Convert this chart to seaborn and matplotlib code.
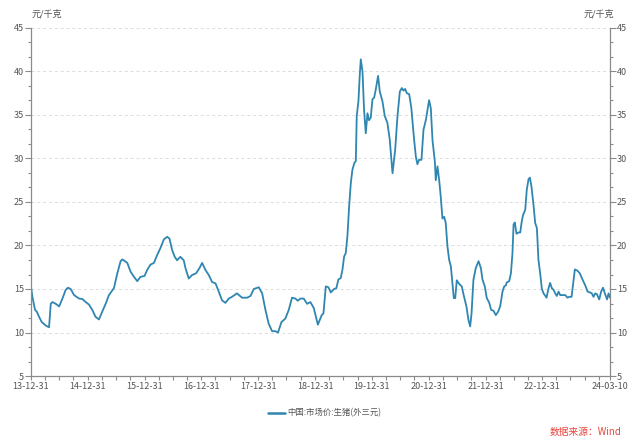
import matplotlib
matplotlib.use("Agg")
import matplotlib.pyplot as plt
from matplotlib.ticker import MultipleLocator
import seaborn as sns
import pandas as pd

# ---- data ----
dates = [
    "2013-12-31", "2014-01-09", "2014-01-26", "2014-02-06", "2014-02-21", "2014-03-10",
    "2014-04-05", "2014-04-26", "2014-05-07", "2014-05-18", "2014-06-08", "2014-06-30",
    "2014-07-21", "2014-08-11", "2014-08-26", "2014-09-12", "2014-10-04", "2014-11-05",
    "2014-11-26", "2014-12-18", "2015-01-08", "2015-01-29", "2015-02-19", "2015-03-13",
    "2015-04-03", "2015-04-25", "2015-05-16", "2015-06-17", "2015-07-09", "2015-07-30",
    "2015-08-10", "2015-08-27", "2015-09-11", "2015-10-02", "2015-10-24", "2015-11-14",
    "2015-12-05", "2015-12-31", "2016-01-17", "2016-02-07", "2016-02-29", "2016-03-21",
    "2016-04-11", "2016-05-03", "2016-05-24", "2016-06-08", "2016-06-25", "2016-07-12",
    "2016-07-27", "2016-08-17", "2016-09-08", "2016-09-19", "2016-10-10", "2016-10-31",
    "2016-11-26", "2016-12-18", "2017-01-04", "2017-01-25", "2017-02-16", "2017-03-09",
    "2017-03-31", "2017-04-21", "2017-05-12", "2017-06-03", "2017-06-24", "2017-07-15",
    "2017-08-16", "2017-09-18", "2017-10-20", "2017-11-11", "2017-12-02", "2018-01-03",
    "2018-01-25", "2018-02-15", "2018-03-08", "2018-03-30", "2018-04-20", "2018-05-07",
    "2018-05-29", "2018-06-23", "2018-07-15", "2018-08-05", "2018-08-27", "2018-09-11",
    "2018-09-28", "2018-10-19", "2018-11-10", "2018-12-01", "2018-12-23", "2019-01-18",
    "2019-02-12", "2019-02-23", "2019-03-10", "2019-03-27", "2019-04-11", "2019-05-02",
    "2019-05-17", "2019-05-30", "2019-06-14", "2019-06-25", "2019-07-06", "2019-07-16",
    "2019-07-27", "2019-08-07", "2019-08-18", "2019-08-28", "2019-09-10", "2019-09-19",
    "2019-09-25", "2019-10-06", "2019-10-14", "2019-10-21", "2019-11-01", "2019-11-11",
    "2019-11-22", "2019-12-03", "2019-12-13", "2019-12-24", "2020-01-04", "2020-01-15",
    "2020-01-25", "2020-02-09", "2020-02-20", "2020-03-08", "2020-03-23", "2020-04-09",
    "2020-04-24", "2020-05-12", "2020-05-29", "2020-06-13", "2020-06-28", "2020-07-11",
    "2020-07-21", "2020-08-01", "2020-08-12", "2020-08-27", "2020-09-10", "2020-09-26",
    "2020-10-09", "2020-10-19", "2020-10-30", "2020-11-14", "2020-11-27", "2020-12-12",
    "2020-12-23", "2021-01-02", "2021-01-13", "2021-01-24", "2021-02-08", "2021-02-14",
    "2021-02-25", "2021-03-08", "2021-03-18", "2021-03-29", "2021-04-09", "2021-04-19",
    "2021-04-30", "2021-05-11", "2021-05-22", "2021-06-01", "2021-06-10", "2021-06-19",
    "2021-06-29", "2021-07-14", "2021-07-31", "2021-08-15", "2021-08-30", "2021-09-12",
    "2021-09-23", "2021-10-02", "2021-10-14", "2021-10-29", "2021-11-16", "2021-12-01",
    "2021-12-11", "2021-12-26", "2022-01-08", "2022-01-23", "2022-02-05", "2022-02-20",
    "2022-03-07", "2022-03-22", "2022-04-04", "2022-04-19", "2022-04-30", "2022-05-10",
    "2022-05-16", "2022-06-01", "2022-06-12", "2022-06-22", "2022-06-29", "2022-07-07",
    "2022-07-18", "2022-07-31", "2022-08-11", "2022-08-21", "2022-08-30", "2022-09-12",
    "2022-09-22", "2022-10-03", "2022-10-12", "2022-10-22", "2022-11-04", "2022-11-15",
    "2022-11-26", "2022-12-06", "2022-12-17", "2022-12-28", "2023-01-08", "2023-01-27",
    "2023-02-09", "2023-02-19", "2023-03-02", "2023-03-13", "2023-03-24", "2023-04-03",
    "2023-04-14", "2023-04-25", "2023-05-10", "2023-05-27", "2023-06-11", "2023-06-22",
    "2023-07-07", "2023-07-17", "2023-07-28", "2023-08-14", "2023-08-29", "2023-09-15",
    "2023-10-02", "2023-10-18", "2023-11-02", "2023-11-14", "2023-11-25", "2023-12-06",
    "2023-12-17", "2024-01-01", "2024-01-13", "2024-01-25", "2024-02-06", "2024-02-20",
    "2024-03-01", "2024-03-10",
]
prices = [
    15.3, 14.1, 12.6, 12.4, 11.8, 11.2,
    10.8, 10.6, 13.3, 13.5, 13.3, 13.0,
    13.9, 14.9, 15.15, 15.0, 14.3, 13.9,
    13.85, 13.5, 13.2, 12.6, 11.8, 11.5,
    12.4, 13.3, 14.3, 15.1, 16.8, 18.2,
    18.4, 18.2, 18.0, 17.0, 16.4, 15.9,
    16.4, 16.5, 17.2, 17.8, 18.0, 18.9,
    19.7, 20.7, 21.0, 20.8, 19.5, 18.7,
    18.3, 18.7, 18.3, 17.4, 16.2, 16.6,
    16.8, 17.4, 18.0, 17.2, 16.6, 15.8,
    15.65, 14.7, 13.7, 13.4, 13.9, 14.1,
    14.5, 14.0, 14.0, 14.2, 15.0, 15.2,
    14.5, 12.6, 11.0, 10.15, 10.15, 10.0,
    11.2, 11.6, 12.6, 14.0, 13.9, 13.65,
    13.9, 13.9, 13.3, 13.5, 12.8, 10.9,
    12.0, 12.2, 15.3, 15.2, 14.6, 15.0,
    15.1, 16.1, 16.25, 17.2, 18.75, 19.1,
    21.05, 24.5, 27.2, 28.7, 29.5, 29.7,
    34.9, 36.6, 39.5, 41.4, 40.0, 35.6,
    32.9, 35.2, 34.4, 34.7, 36.8, 37.0,
    37.9, 39.5, 37.7, 36.6, 34.9, 34.1,
    32.2, 28.3, 31.0, 34.9, 37.7, 38.1,
    37.8, 38.0, 37.5, 37.4, 35.8, 32.5,
    30.2, 29.35, 29.85, 29.85, 33.3, 34.4,
    35.6, 36.7, 35.8, 32.1, 29.65, 27.5,
    29.1, 27.5, 25.6, 23.1, 23.3, 22.6,
    19.9, 18.35, 17.6, 15.7, 13.95, 13.95,
    16.0, 15.6, 15.3, 14.1, 13.0, 11.45,
    10.7, 12.2, 16.05, 17.4, 18.2, 17.4,
    16.1, 15.3, 13.95, 13.45, 12.6, 12.5,
    12.0, 12.4, 13.0, 14.7, 15.3, 15.4,
    15.75, 15.9, 16.8, 19.1, 22.4, 22.65,
    21.35, 21.5, 21.5, 22.8, 23.55, 24.1,
    26.4, 27.6, 27.8, 26.8, 24.7, 22.6,
    22.0, 18.35, 16.8, 15.0, 14.5, 14.0,
    15.1, 15.7, 15.1, 14.9, 14.5, 14.2,
    14.7, 14.3, 14.3, 14.3, 14.0, 14.1,
    14.1, 15.65, 17.25, 17.1, 16.8, 16.1,
    15.45, 14.7, 14.6, 14.5, 14.1, 14.5,
    14.4, 13.8, 14.7, 15.15, 14.5, 13.8,
    14.5, 14.0,
]
series_name = "中国:市场价:生猪(外三元)"
unit_label = "元/千克"
source_label = "数据来源：Wind"
x_tick_dates = ["2013-12-31", "2014-12-31", "2015-12-31", "2016-12-31", "2017-12-31",
                "2018-12-31", "2019-12-31", "2020-12-31", "2021-12-31", "2022-12-31",
                "2024-03-10"]
x_tick_labels = ["13-12-31", "14-12-31", "15-12-31", "16-12-31", "17-12-31",
                 "18-12-31", "19-12-31", "20-12-31", "21-12-31", "22-12-31",
                 "24-03-10"]
y_ticks = [5, 10, 15, 20, 25, 30, 35, 40, 45]

# ---- style ----
sns.set_style("white")
plt.rcParams['font.family'] = ['Noto Sans CJK SC', 'DejaVu Sans']

line_color = "#2f86b0"
axis_color = "#8a8a8a"
text_color = "#555555"

fig = plt.figure(figsize=(6.4, 4.45), dpi=100)
ax = fig.add_axes([31 / 640, 69 / 445, 579 / 640, 348 / 445])

df = pd.DataFrame({"date": pd.to_datetime(dates), "price": prices})
sns.lineplot(data=df, x="date", y="price", ax=ax, color=line_color,
             linewidth=1.3, legend=False)

ax.set_xlim(pd.Timestamp(x_tick_dates[0]), pd.Timestamp(x_tick_dates[-1]))
ax.set_ylim(y_ticks[0], y_ticks[-1])
ax.set_xlabel("")
ax.set_ylabel("")

# y axis: both sides
ax.set_yticks(y_ticks)
ax.yaxis.set_minor_locator(MultipleLocator(5 / 3))
ax.tick_params(axis="y", which="both", left=True, right=True,
               labelleft=True, labelright=True, direction="out",
               color=axis_color, labelcolor=text_color, labelsize=6.5, pad=1,
               width=0.8)
ax.tick_params(axis="y", which="major", length=4)
ax.tick_params(axis="y", which="minor", length=2.5)

# x axis
ax.set_xticks(pd.to_datetime(x_tick_dates))
ax.set_xticklabels(x_tick_labels)
quarter_ticks = pd.date_range("2014-03-31", "2024-03-01", freq="QE")
ax.set_xticks(quarter_ticks, minor=True)
ax.tick_params(axis="x", which="both", bottom=True, direction="out", length=3,
               color=axis_color, labelcolor=text_color, labelsize=6.5, pad=1.5,
               width=0.8)

# grid
ax.yaxis.grid(True, linestyle=(0, (3, 3)), color="#dcdcdc", linewidth=0.7)
ax.xaxis.grid(False)

for side in ["left", "right", "bottom"]:
    ax.spines[side].set_visible(True)
    ax.spines[side].set_color(axis_color)
    ax.spines[side].set_linewidth(0.9)
ax.spines["top"].set_visible(False)

# units
fig.text(32 / 640, 1 - 14 / 445, unit_label, ha="left", va="center",
         fontsize=6.5, color=text_color)
fig.text(614 / 640, 1 - 14 / 445, unit_label, ha="right", va="center",
         fontsize=6.5, color=text_color)

# legend
handle = plt.Line2D([], [], color=line_color, linewidth=1.8)
fig.legend([handle], [series_name], loc="center", bbox_to_anchor=(325 / 640, 1 - 413 / 445),
           frameon=False, fontsize=6, handlelength=2.0, handletextpad=0.3,
           labelcolor=text_color)

# source
fig.text(622 / 640, 1 - 432 / 445, source_label, ha="right", va="center",
         fontsize=7, color="#e8453c")

fig.savefig("out.png", dpi=100)
